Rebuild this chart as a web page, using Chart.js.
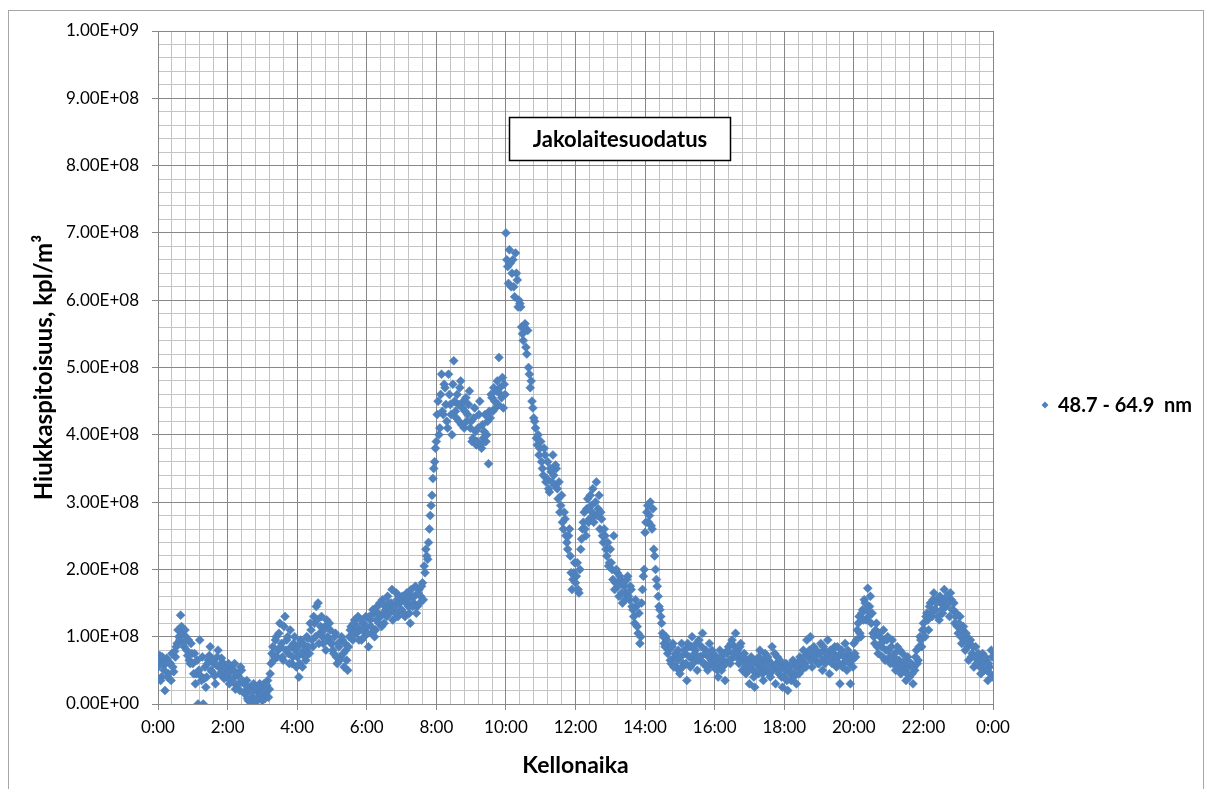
<!DOCTYPE html>
<html lang="fi">
  <head>
    <meta charset="UTF-8" />
    <meta name="viewport" content="width=device-width, initial-scale=1.0" />
    <title>Jakolaitesuodatus</title>
    <script src="https://cdn.jsdelivr.net/npm/chart.js"></script>
    <style>
      html, body { margin: 0; padding: 0; background: #fff; }
    </style>
  </head>
  <body>
    <canvas id="particleChart" width="1212" height="789"></canvas>

    <script>
      // Hiukkaspitoisuus 48.7 - 64.9 nm, yksikkö 1E+08 kpl/m3
      // yksi rivi per tunti, lukema 3 min välein (hourNN) ja niiden välissä (hourNNb)
      const hour00 = [0.55, 0.72, 0.4, 0.6, 0.2, 0.68, 0.45, 0.6, 0.75, 0.48, 0.7, 0.9, 1.0, 1.32, 1.05, 0.85, 1.0, 0.72, 0.65, 0.9];
      const hour01 = [0.6, 0.75, 0.45, 0.0, 0.95, 0.35, 0.0, 0.55, 0.4, 0.65, 0.85, 0.48, 0.6, 0.3, 0.7, 0.55, 0.45, 0.62, 0.38, 0.5];
      const hour02 = [0.45, 0.3, 0.55, 0.38, 0.6, 0.28, 0.42, 0.2, 0.5, 0.32, 0.15, 0.35, 0.05, 0.25, 0.1, 0.3, 0.02, 0.2, 0.12, 0.28];
      const hour03 = [0.05, 0.3, 0.15, 0.35, 0.22, 0.6, 0.85, 0.7, 1.0, 0.8, 1.2, 0.9, 0.65, 1.3, 0.95, 0.75, 1.1, 0.6, 0.9, 0.8];
      const hour04 = [0.7, 0.4, 0.95, 0.55, 0.8, 0.65, 0.98, 0.75, 1.1, 0.85, 1.2, 1.45, 1.5, 1.05, 1.3, 0.9, 1.15, 1.25, 0.95, 1.1];
      const hour05 = [0.9, 0.75, 1.05, 0.6, 0.85, 0.7, 0.95, 0.55, 0.8, 0.5, 1.0, 1.15, 0.95, 1.25, 1.05, 1.3, 1.1, 0.95, 1.2, 1.08];
      const hour06 = [1.15, 0.85, 1.25, 1.05, 1.35, 1.1, 1.45, 1.2, 1.3, 1.55, 1.2, 1.4, 1.6, 1.35, 1.5, 1.25, 1.45, 1.65, 1.3, 1.5];
      const hour07 = [1.4, 1.55, 1.3, 1.65, 1.45, 1.2, 1.6, 1.5, 1.75, 1.45, 1.7, 1.6, 1.8, 2.05, 2.3, 2.15, 2.6, 2.95, 3.35, 3.6];
      const hour08 = [3.9, 4.5, 4.1, 4.9, 4.3, 4.7, 4.2, 4.9, 4.45, 4.0, 5.1, 4.35, 4.6, 4.2, 4.8, 4.4, 4.1, 4.55, 4.3, 4.65];
      const hour09 = [4.2, 3.95, 4.4, 3.85, 4.1, 4.5, 3.8, 3.95, 4.3, 4.0, 3.57, 4.25, 4.55, 4.7, 4.4, 4.8, 5.15, 4.6, 4.85, 4.75];
      const hour10 = [7.0, 6.5, 6.75, 6.2, 6.6, 6.05, 6.4, 5.9, 5.95, 5.6, 5.4, 5.65, 5.2, 5.0, 4.7, 4.5, 4.25, 4.1, 3.85, 3.7];
      const hour11 = [3.9, 3.5, 3.8, 3.3, 3.6, 3.15, 3.45, 3.7, 3.25, 3.5, 3.05, 2.85, 3.1, 2.6, 2.75, 2.4, 2.5, 2.2, 1.7, 1.95];
      const hour12 = [1.8, 2.1, 1.65, 2.3, 2.6, 2.85, 2.5, 3.05, 2.75, 2.95, 3.2, 2.8, 3.3, 2.9, 2.6, 2.75, 2.4, 2.5, 2.2, 2.05];
      const hour13 = [2.3, 2.0, 2.5, 1.8, 1.95, 1.6, 1.85, 1.5, 1.75, 1.65, 1.9, 1.55, 1.7, 1.4, 1.2, 1.45, 1.05, 0.9, 1.5, 1.9];
      const hour14 = [2.55, 2.85, 2.7, 3.0, 2.6, 2.3, 2.0, 1.75, 1.45, 1.3, 1.05, 0.9, 1.0, 0.75, 0.85, 0.6, 0.9, 0.7, 0.55, 0.8];
      const hour15 = [0.45, 0.9, 0.6, 0.75, 0.35, 0.85, 0.55, 1.0, 0.65, 0.8, 0.5, 0.95, 0.7, 1.05, 0.6, 0.8, 0.5, 0.9, 0.65, 0.75];
      const hour16 = [0.55, 0.7, 0.4, 0.8, 0.5, 0.65, 0.35, 0.75, 0.85, 0.6, 0.95, 0.7, 1.05, 0.8, 0.6, 0.9, 0.5, 0.75, 0.45, 0.65];
      const hour17 = [0.3, 0.7, 0.5, 0.25, 0.6, 0.45, 0.8, 0.55, 0.35, 0.75, 0.5, 0.65, 0.4, 0.85, 0.55, 0.3, 0.7, 0.45, 0.6, 0.25];
      const hour18 = [0.4, 0.6, 0.2, 0.5, 0.35, 0.65, 0.45, 0.3, 0.55, 0.7, 0.5, 0.8, 0.6, 0.95, 0.7, 1.0, 0.55, 0.85, 0.65, 0.75];
      const hour19 = [0.6, 0.9, 0.5, 0.8, 0.7, 0.95, 0.45, 0.75, 0.65, 0.85, 0.55, 0.7, 0.3, 0.8, 0.6, 0.9, 0.5, 0.75, 0.3, 0.65];
      const hour20 = [0.9, 0.7, 1.1, 1.3, 1.0, 1.4, 1.55, 1.25, 1.72, 1.45, 1.2, 1.05, 0.9, 1.2, 0.75, 1.0, 0.85, 1.1, 0.65, 0.95];
      const hour21 = [0.8, 0.6, 0.95, 0.7, 0.5, 0.85, 0.65, 0.45, 0.75, 0.55, 0.35, 0.7, 0.4, 0.6, 0.3, 0.5, 0.8, 0.65, 1.0, 0.85];
      const hour22 = [1.2, 1.0, 1.35, 1.1, 1.5, 1.3, 1.65, 1.4, 1.55, 1.25, 1.5, 1.35, 1.7, 1.45, 1.6, 1.3, 1.55, 1.4, 1.2, 1.35];
      const hour23 = [1.05, 1.3, 0.9, 1.15, 0.8, 1.0, 0.65, 0.95, 0.75, 0.55, 0.85, 0.6, 0.7, 0.45, 0.75, 0.5, 0.65, 0.35, 0.55, 0.8];
      const hour24 = [0.4];

      const hour00b = [0.65, 0.35, 0.7, 0.5, 0.6, 0.4, 0.62, 0.35, 0.55, 0.78, 0.85, 1.1, 0.95, 1.15, 0.9, 1.1, 0.8, 0.95, 0.6, 0.75];
      const hour01b = [0.45, 0.3, 0.65, 0.5, 0.42, 0.7, 0.38, 0.25, 0.6, 0.72, 0.5, 0.65, 0.42, 0.58, 0.8, 0.45, 0.68, 0.5, 0.55, 0.4];
      const hour02b = [0.6, 0.48, 0.35, 0.5, 0.22, 0.45, 0.3, 0.55, 0.35, 0.18, 0.28, 0.08, 0.2, 0.03, 0.18, 0.05, 0.25, 0.1, 0.3, 0.15];
      const hour03b = [0.2, 0.08, 0.28, 0.1, 0.45, 0.75, 0.65, 0.95, 0.7, 1.05, 0.85, 0.7, 1.15, 0.8, 1.0, 0.6, 0.85, 0.7, 1.0, 0.55];
      const hour04b = [0.85, 0.6, 0.75, 0.9, 0.7, 1.0, 0.85, 1.2, 0.95, 1.3, 1.0, 1.25, 0.9, 1.15, 1.0, 1.1, 0.8, 1.0, 1.2, 0.9];
      const hour05b = [0.8, 1.0, 0.7, 0.9, 0.65, 1.0, 0.75, 0.9, 0.65, 0.85, 1.1, 1.0, 1.2, 1.1, 1.15, 0.95, 1.25, 1.1, 1.0, 1.3];
      const hour06b = [1.05, 1.3, 1.15, 1.4, 1.0, 1.25, 1.35, 1.5, 1.15, 1.35, 1.45, 1.3, 1.5, 1.4, 1.7, 1.45, 1.35, 1.55, 1.6, 1.4];
      const hour07b = [1.6, 1.35, 1.5, 1.55, 1.35, 1.7, 1.45, 1.6, 1.35, 1.65, 1.5, 1.75, 1.55, 1.95, 2.2, 2.4, 2.8, 3.1, 3.5, 3.8];
      const hour08b = [4.3, 4.0, 4.6, 4.35, 4.75, 4.45, 4.1, 4.6, 4.3, 4.75, 4.5, 4.25, 4.45, 4.7, 4.15, 4.5, 4.35, 4.2, 4.45, 4.1];
      const hour09b = [3.9, 4.25, 4.05, 3.9, 4.3, 3.85, 4.15, 4.05, 3.9, 4.2, 4.35, 4.6, 4.35, 4.5, 4.65, 4.45, 4.7, 4.55, 4.4, 4.6];
      const hour10b = [6.6, 6.25, 6.55, 6.4, 6.2, 6.7, 6.3, 6.0, 5.9, 5.5, 5.6, 5.3, 5.55, 4.9, 4.8, 4.4, 4.2, 3.95, 4.0, 3.8];
      const hour11b = [3.6, 3.4, 3.7, 3.35, 3.2, 3.5, 3.3, 3.4, 3.55, 3.2, 3.3, 2.95, 2.7, 2.85, 2.5, 2.3, 2.6, 1.95, 1.85, 2.1];
      const hour12b = [1.9, 1.7, 2.0, 2.45, 2.7, 2.6, 2.9, 2.7, 3.1, 2.85, 2.7, 3.0, 2.8, 3.1, 2.85, 2.5, 2.6, 2.3, 2.4, 2.1];
      const hour13b = [2.1, 1.85, 1.7, 2.0, 1.75, 1.9, 1.65, 1.8, 1.55, 1.85, 1.6, 1.75, 1.45, 1.3, 1.55, 1.15, 1.35, 1.0, 1.7, 2.0];
      const hour14b = [2.7, 2.95, 2.8, 2.65, 2.9, 2.2, 1.85, 1.6, 1.4, 1.2, 1.0, 0.85, 0.95, 0.8, 0.65, 0.85, 0.55, 0.75, 0.65, 0.5];
      const hour15b = [0.7, 0.55, 0.8, 0.6, 0.9, 0.7, 0.85, 0.6, 0.75, 0.9, 0.65, 0.7, 0.85, 0.6, 0.75, 0.55, 0.7, 0.6, 0.8, 0.55];
      const hour16b = [0.65, 0.5, 0.6, 0.7, 0.55, 0.75, 0.6, 0.8, 0.65, 0.9, 0.75, 0.85, 0.7, 0.75, 0.85, 0.65, 0.7, 0.55, 0.6, 0.5];
      const hour17b = [0.55, 0.6, 0.4, 0.65, 0.5, 0.7, 0.6, 0.45, 0.65, 0.55, 0.7, 0.45, 0.6, 0.5, 0.75, 0.6, 0.5, 0.65, 0.4, 0.55];
      const hour18b = [0.5, 0.35, 0.55, 0.45, 0.6, 0.4, 0.55, 0.6, 0.45, 0.65, 0.6, 0.7, 0.55, 0.75, 0.8, 0.65, 0.75, 0.7, 0.8, 0.6];
      const hour19b = [0.75, 0.65, 0.85, 0.6, 0.75, 0.65, 0.8, 0.6, 0.75, 0.7, 0.85, 0.6, 0.75, 0.55, 0.7, 0.65, 0.8, 0.6, 0.7, 0.55];
      const hour20b = [0.75, 0.95, 1.2, 1.05, 1.35, 1.25, 1.5, 1.4, 1.3, 1.6, 1.35, 1.0, 1.1, 0.85, 1.05, 0.9, 0.7, 0.95, 0.8, 1.0];
      const hour21b = [0.7, 0.85, 0.6, 0.75, 0.65, 0.55, 0.8, 0.6, 0.5, 0.65, 0.45, 0.55, 0.6, 0.45, 0.55, 0.7, 0.6, 0.85, 0.95, 1.1];
      const hour22b = [1.1, 1.3, 1.25, 1.45, 1.35, 1.55, 1.4, 1.5, 1.3, 1.6, 1.4, 1.55, 1.45, 1.6, 1.5, 1.65, 1.4, 1.5, 1.3, 1.15];
      const hour23b = [1.2, 1.0, 1.1, 0.95, 1.05, 0.85, 0.9, 0.7, 0.85, 0.7, 0.6, 0.75, 0.55, 0.65, 0.6, 0.7, 0.5, 0.6, 0.45, 0.7];

      const timeLabels = ["0:00", "2:00", "4:00", "6:00", "8:00", "10:00", "12:00", "14:00", "16:00", "18:00", "20:00", "22:00", "0:00"];
      const yLabels = ["0.00E+00", "1.00E+08", "2.00E+08", "3.00E+08", "4.00E+08", "5.00E+08", "6.00E+08", "7.00E+08", "8.00E+08", "9.00E+08", "1.00E+09"];

      const seriesName = "48.7 - 64.9  nm";
      const chartNote = "Jakolaitesuodatus";

      const hours = [hour00, hour01, hour02, hour03, hour04, hour05, hour06, hour07, hour08, hour09, hour10, hour11,
        hour12, hour13, hour14, hour15, hour16, hour17, hour18, hour19, hour20, hour21, hour22, hour23, hour24];
      const hoursB = [hour00b, hour01b, hour02b, hour03b, hour04b, hour05b, hour06b, hour07b, hour08b, hour09b, hour10b, hour11b,
        hour12b, hour13b, hour14b, hour15b, hour16b, hour17b, hour18b, hour19b, hour20b, hour21b, hour22b, hour23b];

      const points = [];
      hours.forEach((row, h) => {
        row.forEach((v, i) => points.push({ x: h + i * 0.05, y: v * 1e8 }));
        if (hoursB[h]) hoursB[h].forEach((v, i) => points.push({ x: h + 0.025 + i * 0.05, y: v * 1e8 }));
      });

      const markerColor = "#4F81BD";
      const majorGrid = "#878787";
      const minorGrid = "#c4c4c4";
      const fontFamily = "Lato, 'Open Sans', sans-serif";

      // kehys, otsikkolaatikko ja selite
      const decorations = {
        id: "decorations",
        beforeDraw(chart) {
          const ctx = chart.ctx;
          ctx.save();
          ctx.fillStyle = "#fff";
          ctx.fillRect(0, 0, chart.width, chart.height);
          ctx.strokeStyle = "#a6a6a6";
          ctx.lineWidth = 1;
          ctx.strokeRect(8.5, 10.5, 1195, 790);
          ctx.restore();
        },
        afterDraw(chart) {
          const ctx = chart.ctx;
          const x = chart.scales.x;
          const y = chart.scales.y;
          ctx.save();
          // Jakolaitesuodatus-laatikko
          const l = Math.round(x.getPixelForValue(10.1)) + 0.5;
          const r = Math.round(x.getPixelForValue(16.44)) + 0.5;
          const t = Math.round(y.getPixelForValue(8.72e8)) + 0.5;
          const b = Math.round(y.getPixelForValue(8.08e8)) + 0.5;
          ctx.fillStyle = "#fff";
          ctx.fillRect(l, t, r - l, b - t);
          ctx.strokeStyle = "#000";
          ctx.lineWidth = 1.5;
          ctx.strokeRect(l, t, r - l, b - t);
          ctx.fillStyle = "#000";
          ctx.font = "bold 22px " + fontFamily;
          ctx.textAlign = "center";
          ctx.textBaseline = "middle";
          ctx.fillText(chartNote, (l + r) / 2, (t + b) / 2 + 1);

          // selite
          const lx = 1045, ly = 405;
          ctx.fillStyle = markerColor;
          ctx.beginPath();
          ctx.moveTo(lx - 3.5, ly);
          ctx.lineTo(lx, ly - 3.5);
          ctx.lineTo(lx + 3.5, ly);
          ctx.lineTo(lx, ly + 3.5);
          ctx.closePath();
          ctx.fill();
          ctx.fillStyle = "#000";
          ctx.font = "bold 20px " + fontFamily;
          ctx.textAlign = "left";
          ctx.fillText(seriesName, lx + 13, ly + 1);
          ctx.restore();
        },
      };

      const config = {
        type: "scatter",
        data: {
          datasets: [
            {
              label: seriesName,
              data: points,
              pointStyle: "rectRot",
              pointRadius: 4.5,
              backgroundColor: markerColor,
              borderColor: "#4A7EBB",
              borderWidth: 0.5,
            },
          ],
        },
        options: {
          responsive: false,
          animation: false,
          events: [],
          layout: { padding: { left: 26, top: 31, right: 219, bottom: 6 } },
          plugins: {
            legend: { display: false },
            tooltip: { enabled: false },
          },
          scales: {
            x: {
              type: "linear",
              position: "bottom",
              min: 0,
              max: 24,
              afterFit: (s) => { s.height = 79; },
              afterBuildTicks: (s) => { s.ticks = timeLabels.map((_, i) => ({ value: i * 2 })); },
              ticks: {
                autoSkip: false,
                maxRotation: 0,
                padding: 7,
                color: "#000",
                font: { family: fontFamily, size: 17 },
                callback: (v) => timeLabels[Math.round(v / 2)],
              },
              grid: { color: majorGrid, tickLength: 6, z: -1 },
              border: { color: majorGrid },
              title: {
                display: true,
                text: "Kellonaika",
                color: "#000",
                font: { family: fontFamily, size: 23, weight: "bold" },
              },
            },
            xMinor: {
              type: "linear",
              position: "bottom",
              min: 0,
              max: 24,
              afterFit: (s) => { s.height = 0; },
              ticks: { display: false, stepSize: 0.4, autoSkip: false },
              grid: { color: minorGrid, drawTicks: false, z: -2 },
              border: { display: false },
            },
            y: {
              type: "linear",
              position: "left",
              min: 0,
              max: 1e9,
              afterFit: (s) => { s.width = 132; },
              afterBuildTicks: (s) => { s.ticks = yLabels.map((_, i) => ({ value: i * 1e8 })); },
              ticks: {
                padding: 13,
                color: "#000",
                font: { family: fontFamily, size: 17 },
                callback: (v) => yLabels[Math.round(v / 1e8)],
              },
              grid: { color: majorGrid, tickLength: 6, z: -1 },
              border: { color: majorGrid },
              title: {
                display: true,
                text: "Hiukkaspitoisuus, kpl/m³",
                color: "#000",
                font: { family: fontFamily, size: 24, weight: "bold" },
              },
            },
            yMinor: {
              type: "linear",
              position: "left",
              min: 0,
              max: 1e9,
              afterFit: (s) => { s.width = 0; },
              ticks: { display: false, stepSize: 2e7, autoSkip: false },
              grid: { color: minorGrid, drawTicks: false, z: -2 },
              border: { display: false },
            },
          },
        },
        plugins: [decorations],
      };

      new Chart(document.getElementById("particleChart"), config);
    </script>
  </body>
</html>
